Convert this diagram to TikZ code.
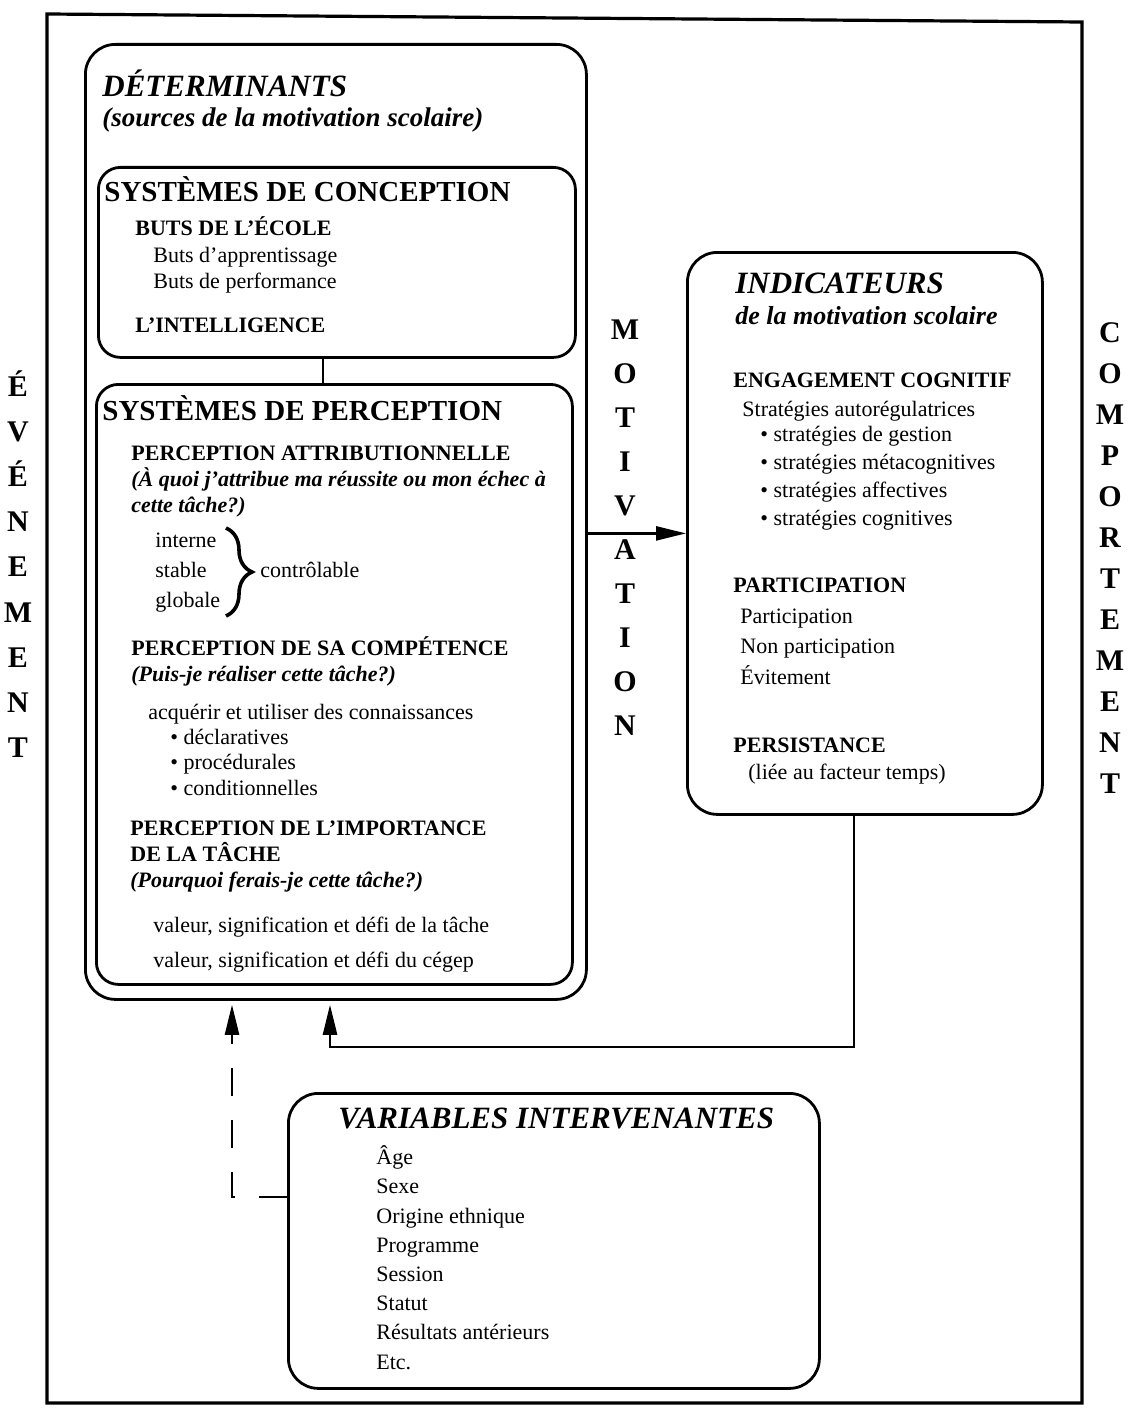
\documentclass[tikz,border=0pt]{standalone}
\usepackage{fontspec}
\setmainfont{Liberation Serif}
\usetikzlibrary{arrows.meta}
\usetikzlibrary{decorations.pathreplacing}

\begin{document}
\begin{tikzpicture}[x=0.5pt, y=-0.5pt,
  box/.style={draw, line width=1.4pt, rounded corners=15pt, anchor=north west, inner sep=0pt},
  inbox/.style={box, rounded corners=11pt},
  txt/.style={anchor=base west, inner sep=0pt, align=left, font=\fontsize{11}{13}\selectfont},
  head/.style={txt, font=\fontsize{11}{13}\selectfont\bfseries},
  quest/.style={txt, font=\fontsize{11}{13}\selectfont\bfseries\itshape},
  systitle/.style={txt, font=\fontsize{14.5}{16}\selectfont\bfseries},
  title/.style={txt, font=\fontsize{15.5}{18}\selectfont\bfseries\itshape},
  subtitle/.style={txt, font=\fontsize{13.5}{16}\selectfont\bfseries\itshape},
  sideword/.style={inner sep=0pt, align=center, font=\fontsize{15}{22}\selectfont\bfseries},
  arr/.style={-{Triangle[length=15pt,width=7pt]}, line width=1.3pt}
]
  \useasboundingbox (0,0) rectangle (1129,1412);
  % outer frame
  \draw[line width=1.6pt] (47,14) -- (1082,22) -- (1082,1403) -- (47,1403) -- cycle;

  % boxes
  \node[box, minimum width=250.5pt, minimum height=477.5pt] (det) at (84,43) {};
  \node[inbox, minimum width=238.5pt, minimum height=95pt] (conc) at (97,166) {};
  \node[inbox, minimum width=238pt, minimum height=300pt] (perc) at (95,383) {};
  \node[box, minimum width=177.5pt, minimum height=281pt] (ind) at (686,251) {};
  \node[box, minimum width=265.5pt, minimum height=147.5pt] (var) at (287,1092) {};

  % determinants (multi-line nodes sit on their last baseline)
  \node[title] (detT) at (102,97) {DÉTERMINANTS};
  \node[subtitle] (detS) at (102,127) {(sources de la motivation scolaire)};
  \node[systitle] (concT) at (104,202) {SYSTÈMES DE CONCEPTION};
  \node[head] (buts) at (135,235) {BUTS DE L'ÉCOLE};
  \node[txt] (butsL) at (153,288) {Buts d'apprentissage\\Buts de performance};
  \node[head] (intel) at (135,332) {L'INTELLIGENCE};
  \node[systitle] (percT) at (102,420) {SYSTÈMES DE PERCEPTION};
  \node[head] (attr) at (131,460) {PERCEPTION ATTRIBUTIONNELLE};
  \node[quest] (attrQ) at (131,512) {(À quoi j'attribue ma réussite ou mon échec à\\cette tâche?)};
  \node[txt, font=\fontsize{11}{15}\selectfont] (attrL) at (155,607) {interne\\stable\\globale};
  \node[txt] (ctrl) at (260,577) {contrôlable};
  \node[head] (comp) at (131,655) {PERCEPTION DE SA COMPÉTENCE};
  \node[quest] (compQ) at (131,681) {(Puis-je réaliser cette tâche?)};
  \node[txt] (acq) at (148,719) {acquérir et utiliser des connaissances};
  \node[txt, font=\fontsize{11}{12.75}\selectfont] (acqL) at (170,795) {• déclaratives\\• procédurales\\• conditionnelles};
  \node[head] (imp) at (130,861) {PERCEPTION DE L'IMPORTANCE\\DE LA TÂCHE};
  \node[quest] (impQ) at (130,887) {(Pourquoi ferais-je cette tâche?)};
  \node[txt, font=\fontsize{11}{17.5}\selectfont] (impL) at (153,967) {valeur, signification et défi de la tâche\\valeur, signification et défi du cégep};
  \draw[decorate, decoration={brace, amplitude=13pt}, line width=1.8pt] (226,528) -- (226,616);

  % indicateurs
  \node[title] (indT) at (735,293) {INDICATEURS};
  \node[subtitle, font=\fontsize{13}{16}\selectfont\bfseries\itshape] (indS) at (735,324) {de la motivation scolaire};
  \node[head] (eng) at (733,387) {ENGAGEMENT COGNITIF};
  \node[txt] (strat) at (742,416) {Stratégies autorégulatrices};
  \node[txt, font=\fontsize{11}{14}\selectfont] (stratL) at (760,525) {• stratégies de gestion\\• stratégies métacognitives\\• stratégies affectives\\• stratégies cognitives};
  \node[head] (part) at (733,592) {PARTICIPATION};
  \node[txt, font=\fontsize{11}{15.25}\selectfont] (partL) at (740,684) {Participation\\Non participation\\Évitement};
  \node[head] (pers) at (733,752) {PERSISTANCE};
  \node[txt] (persL) at (748,779) {(liée au facteur temps)};

  % variables intervenantes
  \node[title] (varT) at (338,1128) {VARIABLES INTERVENANTES};
  \node[txt, font=\fontsize{11}{14.6}\selectfont] (varL) at (376,1369) {Âge\\Sexe\\Origine ethnique\\Programme\\Session\\Statut\\Résultats antérieurs\\Etc.};

  % side words
  \node[sideword, font=\fontsize{15}{22.6}\selectfont\bfseries] (evt) at (18,564) {É\\V\\É\\N\\E\\M\\E\\N\\T};
  \node[sideword] (motiv) at (625,528) {M\\O\\T\\I\\V\\A\\T\\I\\O\\N};
  \node[sideword, font=\fontsize{15}{20.5}\selectfont\bfseries] (compt) at (1110,558) {C\\O\\M\\P\\O\\R\\T\\E\\M\\E\\N\\T};

  % connectors
  \draw[line width=1.3pt] ([xshift=-7pt]conc.south) -- ([xshift=-7pt]conc.south |- perc.north);
  \draw[arr] (det.east |- ind.west) -- (ind.west);
  \coordinate (back) at (330,1047);
  \draw[arr, shorten >=2pt] ([xshift=-5.5pt]ind.south) |- (back) -- (back |- det.south);
  \coordinate (dash) at (232,1197);
  \draw[arr, shorten >=2pt, dash pattern=on 14pt off 12pt] (var.west |- dash) -- (dash) -- (dash |- det.south);
\end{tikzpicture}
\end{document}
